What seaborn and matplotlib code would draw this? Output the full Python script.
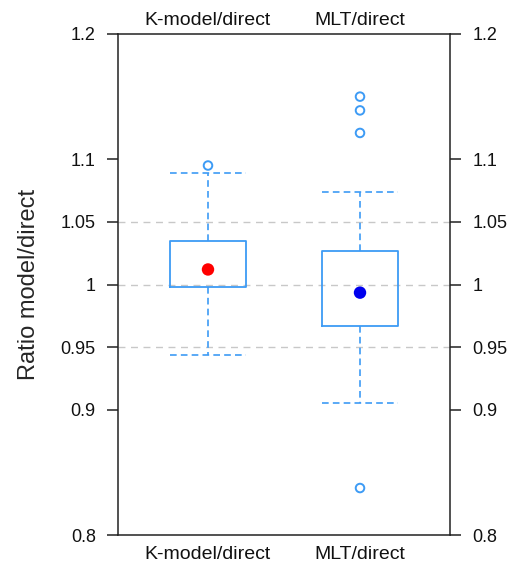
import matplotlib
matplotlib.use("Agg")
import matplotlib.pyplot as plt
import seaborn as sns
import pandas as pd
import numpy as np

# ---- data ----
categories = ["K-model/direct", "MLT/direct"]
q1_vals = [0.998, 0.967]
q3_vals = [1.035, 1.027]
whisk_lo = [0.944, 0.905]
whisk_hi = [1.089, 1.074]
mean_vals = [1.012, 0.9935]
mean_colors = ["#ff0000", "#0000ee"]
outliers = [[1.095], [1.150, 1.139, 1.121, 0.8375]]
yticks = [0.8, 0.9, 0.95, 1.0, 1.05, 1.1, 1.2]
ytick_labels = ["0.8", "0.9", "0.95", "1", "1.05", "1.1", "1.2"]
ref_lines = [0.95, 1.0, 1.05]

box_color = "#3d9bf5"

sns.set_theme(style="white")
plt.rcParams["font.family"] = ["Liberation Sans", "DejaVu Sans"]

fig = plt.figure(figsize=(5.22, 5.64), dpi=100)
ax = fig.add_axes([118/522, 1-535/564, (450-118)/522, (535-34)/564])

positions = list(range(len(categories)))

for y in ref_lines:
    ax.axhline(y, color="#c8c8c8", lw=1.0, ls=(0, (5, 4)), zorder=0)

stats = []
for i, c in enumerate(categories):
    med = (q1_vals[i] + q3_vals[i]) / 2
    stats.append(dict(label=c, q1=q1_vals[i], q3=q3_vals[i], med=med,
                      whislo=whisk_lo[i], whishi=whisk_hi[i], fliers=[]))

ax.bxp(stats, positions=positions, widths=0.5, showfliers=False,
       boxprops=dict(color=box_color, lw=1.3),
       whiskerprops=dict(color=box_color, lw=1.2, ls=(0, (4, 2.5))),
       capprops=dict(color=box_color, lw=1.2, ls=(0, (4, 2.5))),
       medianprops=dict(visible=False),
       capwidths=0.5, manage_ticks=False)

# outliers
ox, oy = [], []
for i, vals in enumerate(outliers):
    for v in vals:
        ox.append(positions[i]); oy.append(v)
df_out = pd.DataFrame({"x": ox, "y": oy})
sns.scatterplot(data=df_out, x="x", y="y", ax=ax, marker="o", s=38,
                facecolors="none", edgecolors=box_color, linewidth=1.4,
                zorder=3, legend=False)

# means
df_mean = pd.DataFrame({"x": positions, "y": mean_vals, "cat": categories})
sns.scatterplot(data=df_mean, x="x", y="y", hue="cat",
                palette=dict(zip(categories, mean_colors)), ax=ax,
                marker="o", s=80, linewidth=0, zorder=4, legend=False)

ax.set_xlim(-0.592, 1.592)
ax.set_ylim(0.8, 1.2)
ax.set_yticks(yticks)
ax.set_yticklabels(ytick_labels)
ax.set_xticks([])
ax.set_xlabel("")
ax.set_ylabel("Ratio model/direct", fontsize=17, labelpad=15)

for s in ax.spines.values():
    s.set_visible(True)
    s.set_color("#222222")
    s.set_linewidth(1.1)

ax.tick_params(axis="y", which="both", left=True, right=True,
               labelleft=True, labelright=True, direction="out",
               length=8, width=1.1, color="#222222", pad=8,
               labelsize=13, labelcolor="#111111")

for i, c in enumerate(categories):
    ax.annotate(c, xy=(positions[i], 1.0), xycoords=("data", "axes fraction"),
                xytext=(0, 6.5), textcoords="offset points",
                ha="center", va="baseline", fontsize=14, color="#111111")
    ax.annotate(c, xy=(positions[i], 0.0), xycoords=("data", "axes fraction"),
                xytext=(0, -8), textcoords="offset points",
                ha="center", va="top", fontsize=14, color="#111111")

fig.savefig("out.png", dpi=100)
